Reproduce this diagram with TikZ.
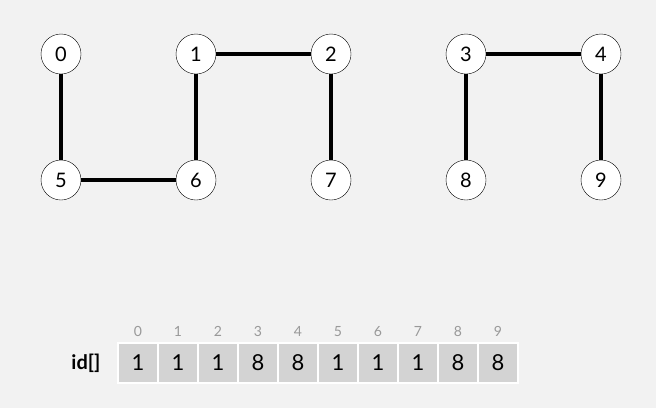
\documentclass[tikz,border=0pt]{standalone}
\usepackage{fontspec}
\setmainfont{Lato}
\usepackage{xcolor}
\usepackage{tikz}
\usetikzlibrary{positioning}

\definecolor{bgcol}{HTML}{F2F2F2}
\definecolor{cellcol}{HTML}{D3D3D3}
\definecolor{idxcol}{HTML}{999999}

\begin{document}
\begin{tikzpicture}[
        x=1pt, y=-1pt,
        node distance=0pt,
        site/.style={circle, draw, thin, fill=white, minimum size=40pt,
                     inner sep=0pt, font=\fontsize{20}{20}\selectfont},
        link/.style={line width=4pt},
        cell/.style={rectangle, draw=white, line width=1.2pt, fill=cellcol,
                     minimum width=40pt, minimum height=40pt, inner sep=0pt,
                     outer sep=0pt, font=\fontsize{22}{22}\selectfont},
        idx/.style={above=3pt of #1, text=idxcol, font=\fontsize{14}{14}\selectfont},
    ]
        % Background
        \fill[bgcol] (0,0) rectangle (656,408);
        \useasboundingbox (0,0) rectangle (656,408);

        % Sites, top row
        \node[site] (n0) at (61,54) {0};
        \node[site] (n1) at (196,54) {1};
        \node[site] (n2) at (331,54) {2};
        \node[site] (n3) at (466,54) {3};
        \node[site] (n4) at (601,54) {4};

        % Sites, bottom row
        \node[site] (n5) at (61,180) {5};
        \node[site] (n6) at (196,180) {6};
        \node[site] (n7) at (331,180) {7};
        \node[site] (n8) at (466,180) {8};
        \node[site] (n9) at (601,180) {9};

        % Links
        \draw[link] (n0) -- (n5);
        \draw[link] (n5) -- (n6);
        \draw[link] (n1) -- (n6);
        \draw[link] (n1) -- (n2);
        \draw[link] (n2) -- (n7);
        \draw[link] (n3) -- (n4);
        \draw[link] (n3) -- (n8);
        \draw[link] (n4) -- (n9);

        % Array id[]
        \node[cell] (c0) at (138,363) {1};
        \node[cell, right=of c0] (c1) {1};
        \node[cell, right=of c1] (c2) {1};
        \node[cell, right=of c2] (c3) {8};
        \node[cell, right=of c3] (c4) {8};
        \node[cell, right=of c4] (c5) {1};
        \node[cell, right=of c5] (c6) {1};
        \node[cell, right=of c6] (c7) {1};
        \node[cell, right=of c7] (c8) {8};
        \node[cell, right=of c8] (c9) {8};

        % Indices
        \node[idx=c0] (i0) {0};
        \node[idx=c1] (i1) {1};
        \node[idx=c2] (i2) {2};
        \node[idx=c3] (i3) {3};
        \node[idx=c4] (i4) {4};
        \node[idx=c5] (i5) {5};
        \node[idx=c6] (i6) {6};
        \node[idx=c7] (i7) {7};
        \node[idx=c8] (i8) {8};
        \node[idx=c9] (i9) {9};

        % Label
        \node[left=14pt of c0, font=\fontsize{20}{20}\selectfont\bfseries] (lbl) {id[]};
    \end{tikzpicture}
\end{document}
